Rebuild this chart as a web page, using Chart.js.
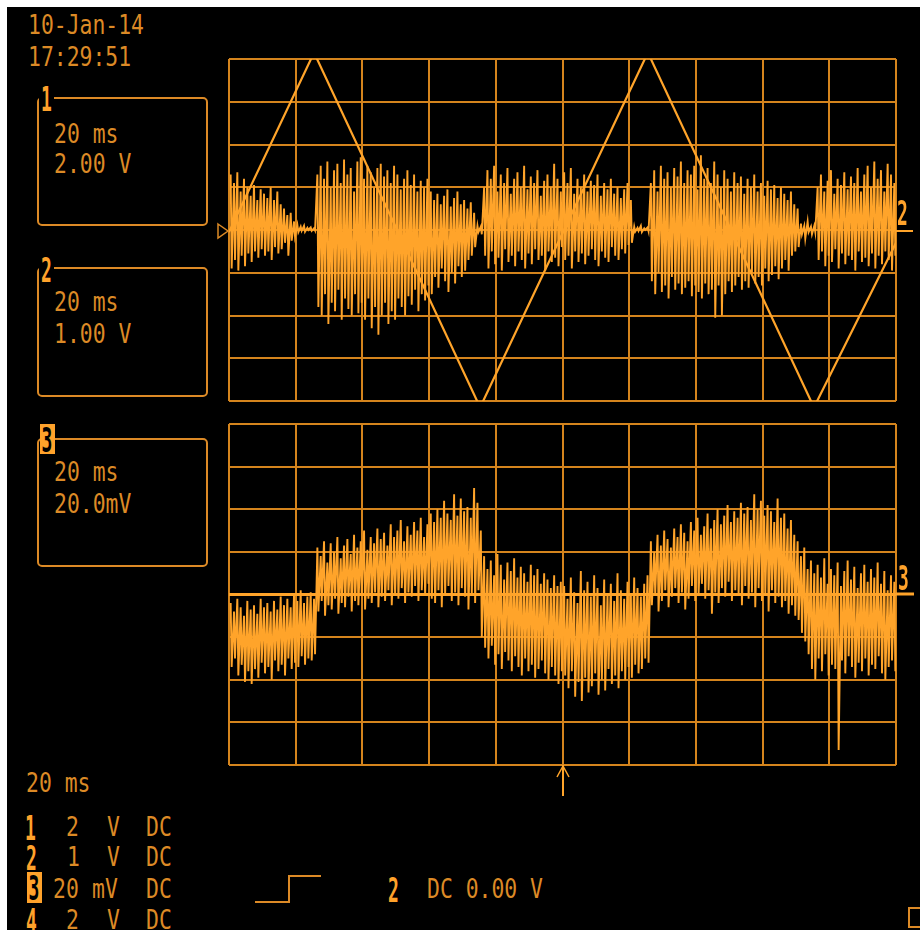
<!DOCTYPE html>
<html>
<head>
<meta charset="utf-8">
<script src="https://cdn.jsdelivr.net/npm/chart.js@4.4.0/dist/chart.umd.min.js"></script>
<style>
  body { margin: 0; background: #fff; }
  #scope { position: absolute; left: 0; top: 0; width: 920px; height: 930px; background: #000; overflow: hidden; }
  .t { position: absolute; font-family: "DejaVu Sans Mono", monospace; font-size: 21.4px; line-height: normal;
       color: #dc8a26; white-space: pre; transform: scaleY(1.28); transform-origin: 0 0; }
  .b { position: absolute; font-family: "DejaVu Sans Mono", monospace; font-weight: bold; font-size: 18px;
       line-height: normal; color: #ffa22b; white-space: pre; transform: scaleY(1.83); transform-origin: 0 0; }
  .lbl { background: #000; padding: 0 2px; }
  .box { position: absolute; border: 2px solid #dc8a26; border-radius: 5px; box-sizing: border-box; }
  .inv { position: absolute; background: #ffa22b; }
  canvas { position: absolute; }
  .edge { position: absolute; background: #fff; }
</style>
</head>
<body>
<div id="scope">
  <canvas id="upper" width="687" height="362" style="left:219px;top:49px"></canvas>
  <canvas id="lower" width="687" height="361" style="left:219px;top:414px"></canvas>

  <div class="t" style="left:28px;top:7.5px">10-Jan-14</div>
  <div class="t" style="left:28px;top:39.5px">17:29:51</div>

  <div class="box" style="left:37px;top:97px;width:171px;height:129px"></div>
  <div class="b lbl" style="left:39px;top:79.5px">1</div>
  <div class="t" style="left:54px;top:116.5px">20 ms</div>
  <div class="t" style="left:54px;top:146.5px">2.00 V</div>

  <div class="box" style="left:37px;top:267px;width:171px;height:130px"></div>
  <div class="b lbl" style="left:39px;top:250.5px">2</div>
  <div class="t" style="left:54px;top:284.5px">20 ms</div>
  <div class="t" style="left:54px;top:316.5px">1.00 V</div>

  <div class="box" style="left:37px;top:438px;width:171px;height:129px"></div>
  <div class="inv" style="left:40px;top:424px;width:15px;height:30px"><div class="b" style="left:1.5px;top:-3.5px;color:#000">3</div></div>
  <div class="t" style="left:54px;top:454.5px">20 ms</div>
  <div class="t" style="left:54px;top:486.5px">20.0mV</div>

  <div class="t" style="left:26px;top:765.5px">20 ms</div>

  <div class="b" style="left:25px;top:808.5px">1</div>
  <div class="t" style="left:66px;top:809.5px">2</div>
  <div class="t" style="left:107px;top:809.5px">V</div>
  <div class="t" style="left:146px;top:809.5px">DC</div>

  <div class="b" style="left:26px;top:838.5px">2</div>
  <div class="t" style="left:67px;top:839.5px">1</div>
  <div class="t" style="left:107px;top:839.5px">V</div>
  <div class="t" style="left:146px;top:839.5px">DC</div>

  <div class="inv" style="left:27px;top:872px;width:15px;height:31px"><div class="b" style="left:1.5px;top:-3px;color:#000">3</div></div>
  <div class="t" style="left:53px;top:871.5px">20</div>
  <div class="t" style="left:92px;top:871.5px">mV</div>
  <div class="t" style="left:146px;top:871.5px">DC</div>

  <div class="b" style="left:26px;top:901.5px">4</div>
  <div class="t" style="left:66px;top:902.5px">2</div>
  <div class="t" style="left:107px;top:902.5px">V</div>
  <div class="t" style="left:146px;top:902.5px">DC</div>

  <div class="b" style="left:388px;top:870.5px">2</div>
  <div class="t" style="left:427px;top:871.5px">DC 0.00 V</div>

  <div class="b" style="left:897px;top:193.5px">2</div>
  <div class="b" style="left:898px;top:558.5px">3</div>

  <svg width="920" height="930" style="position:absolute;left:0;top:0">
    <polygon points="218,224 228,231 218,238" fill="none" stroke="#dc8a26" stroke-width="1.5"/>
    <line x1="896" y1="231" x2="913" y2="231" stroke="#ffa42a" stroke-width="2"/>
    <line x1="896" y1="594" x2="914" y2="594" stroke="#ffa42a" stroke-width="3"/>
    <line x1="563" y1="765" x2="563" y2="796" stroke="#ffa42a" stroke-width="2"/>
    <polyline points="557,777 563,766 569,777" fill="none" stroke="#ffa42a" stroke-width="1.5"/>
    <polyline points="255,902 289,902 289,876 321,876" fill="none" stroke="#dc8a26" stroke-width="2"/>
    <rect x="909" y="908" width="14" height="19" fill="none" stroke="#dc8a26" stroke-width="2"/>
  </svg>
</div>
<div class="edge" style="left:0;top:0;width:920px;height:7px"></div>
<div class="edge" style="left:0;top:0;width:7px;height:930px"></div>

<script>
// channel 1: triangle, vertices (ms, V), clipped at +-8 V by the graticule
const ch1Time = [0, 25.5, 75.3, 125.6, 175.4, 200];
const ch1Volts = [-0.1, 8.3, -8.3, 8.3, -8.3, -0.6];

// channel 2 (1 V/div): per-ms upper and lower spike values
const ch2Hi = [
  1.3, 1.1, 1.35, 0.9, 1.2, 1.0, 0.8, 1.05, 0.7, 0.95,
  0.85, 0.75, 1.0, 0.7, 0.9, 0.6, 0.5, 0.35, 0.4, 0.2,
  0.12, 0.08, 0.1, 0.05, 0.06, 0.04, 1.3, 1.5, 1.2, 1.6,
  1.0, 1.4, 1.55, 1.1, 1.65, 1.3, 1.45, 0.9, 1.6, 1.7,
  1.2, 1.5, 1.35, 1.0, 1.45, 1.55, 1.25, 1.4, 1.1, 1.5,
  1.3, 0.95, 1.2, 1.4, 1.05, 1.3, 0.9, 1.15, 1.0, 1.2,
  0.9, 0.7, 0.85, 0.6, 0.8, 0.95, 0.55, 0.75, 0.9, 0.6,
  0.7, 0.5, 0.65, 0.4, 0.1, 0.08, 1.0, 1.4, 1.2, 1.5,
  0.9, 1.3, 1.1, 1.45, 0.85, 1.2, 1.35, 1.0, 1.5, 0.95,
  1.25, 1.1, 1.4, 0.8, 1.15, 1.3, 1.0, 1.55, 1.2, 0.9,
  1.35, 1.1, 1.45, 0.85, 1.2, 1.0, 1.3, 0.9, 1.15, 1.05,
  1.3, 0.8, 1.1, 0.95, 1.2, 0.85, 1.0, 0.75, 0.95, 1.1,
  0.7, 0.08, 0.05, 0.1, 0.04, 0.06, 1.1, 1.4, 0.9, 1.5,
  1.2, 1.35, 1.0, 1.45, 1.25, 1.6, 1.1, 1.4, 1.3, 1.5,
  0.95, 1.75, 1.2, 1.45, 1.1, 1.6, 1.3, 1.0, 1.4, 1.2,
  0.9, 1.35, 1.1, 1.25, 0.85, 1.2, 1.0, 1.3, 0.9, 1.1,
  0.8, 1.15, 0.95, 1.05, 0.75, 1.0, 0.85, 0.7, 0.9, 0.6,
  0.5, 0.15, 0.1, 0.2, 0.08, 0.1, 1.0, 1.3, 0.9, 1.15,
  1.4, 0.85, 1.2, 1.05, 1.35, 0.95, 1.25, 1.1, 1.45, 0.9,
  1.3, 1.5, 1.0, 1.6, 1.2, 1.4, 0.9, 1.55, 1.3, 1.1
];
const ch2Lo = [
  -0.9, -0.7, -0.95, -0.6, -0.85, -0.55, -0.75, -0.5, -0.65, -0.45,
  -0.6, -0.5, -0.7, -0.4, -0.55, -0.45, -0.3, -0.6, -0.25, -0.15,
  -0.05, -0.02, -0.04, 0, -0.02, -0.01, -1.8, -2.0, -1.5, -2.2,
  -1.7, -1.9, -1.4, -2.1, -1.6, -1.85, -2.0, -1.5, -1.95, -1.7,
  -2.1, -1.6, -2.3, -1.8, -2.45, -2.0, -1.7, -2.2, -1.9, -2.1,
  -1.6, -1.8, -2.0, -1.55, -1.75, -1.4, -1.9, -1.5, -1.65, -1.3,
  -1.5, -1.1, -1.35, -0.9, -1.2, -1.45, -1.0, -1.25, -0.85, -1.1,
  -0.95, -0.7, -0.6, -0.4, -0.05, -0.1, -0.6, -0.9, -0.5, -0.8,
  -0.65, -0.95, -0.45, -0.75, -0.6, -0.85, -0.5, -0.7, -0.9, -0.55,
  -0.8, -0.45, -0.7, -0.6, -0.95, -0.5, -0.75, -0.65, -0.85, -0.4,
  -0.7, -0.6, -0.9, -0.5, -0.75, -0.55, -0.8, -0.6, -0.45, -0.7,
  -0.85, -0.5, -0.65, -0.75, -0.4, -0.6, -0.7, -0.45, -0.55, -0.35,
  -0.3, -0.04, -0.02, -0.05, 0, -0.03, -1.2, -1.5, -1.0, -1.45,
  -1.3, -1.6, -1.1, -1.4, -1.25, -1.5, -1.35, -1.2, -1.55, -1.3,
  -1.45, -1.6, -1.25, -1.5, -1.4, -2.05, -1.3, -2.0, -1.5, -1.2,
  -1.45, -1.3, -1.1, -1.4, -1.2, -1.35, -1.0, -1.25, -1.1, -1.3,
  -0.9, -1.2, -1.05, -0.85, -1.15, -0.9, -0.7, -0.95, -0.6, -0.5,
  -0.4, -0.1, -0.2, -0.05, -0.1, -0.05, -0.7, -0.5, -0.85, -0.6,
  -0.75, -0.45, -0.9, -0.55, -0.8, -0.6, -0.7, -0.95, -0.5, -0.75,
  -0.65, -0.85, -0.55, -0.9, -0.6, -0.8, -0.5, -0.7, -0.95, -0.6
];

// channel 3 (20 mV/div): per-ms upper and lower spike values, mV
const ch3Hi = [
  -4, -8, -2, -6, -10, -3, -7, -5, -9, -2,
  -6, -4, -8, -3, -7, -1, -5, -2, -6, 0,
  -3, 2, -4, -1, 1, -2, 22, 18, 25, 15,
  24, 20, 27, 17, 23, 26, 19, 28, 22, 25,
  30, 21, 27, 24, 31, 26, 29, 23, 33, 27,
  30, 35, 25, 32, 28, 34, 30, 36, 27, 33,
  38, 34, 40, 36, 44, 38, 35, 47, 37, 45,
  39, 41, 36, 50, 43, 30, 18, 12, 16, 9,
  19, 14, 7, 15, 11, 17, 8, 13, 10, 6,
  14, 9, 12, 5, 10, 7, 3, 9, 4, 6,
  4, -2, 8, 1, -4, 11, 2, 6, -1, 9,
  3, -5, 7, 0, 5, -3, 10, 2, -2, 6,
  0, 8, 3, -1, 5, 9, 25, 20, 28, 23,
  30, 26, 22, 31, 27, 33, 29, 25, 34, 30,
  36, 28, 32, 38, 31, 35, 40, 33, 37, 42,
  34, 39, 36, 43, 38, 41, 35, 47, 40, 44,
  37, 42, 39, 34, 45, 36, 38, 31, 35, 28,
  25, 18, 22, 12, 16, 10, 14, 8, 17, 5,
  12, 9, 15, 4, 11, 16, 7, 13, 3, 10,
  14, 6, 12, 8, 15, 5, 11, 2, 9, 6
];
const ch3Lo = [
  -34, -30, -38, -33, -41, -36, -42, -35, -39, -32,
  -37, -34, -40, -31, -36, -33, -38, -30, -35, -32,
  -34, -29, -33, -30, -31, -28, -8, -3, -10, -5,
  -7, -2, -9, -4, -6, -1, -8, -3, -5, 0,
  -7, -2, -4, 1, -6, -1, -3, 2, -5, 0,
  -2, 3, -4, 1, -1, 4, -3, 2, 0, 5,
  -2, -4, 2, -6, 0, 4, -3, 1, -5, 3,
  -1, -7, 0, -4, 2, -20, -25, -30, -24, -33,
  -28, -35, -27, -31, -36, -29, -34, -38, -30, -36,
  -33, -39, -35, -31, -37, -40, -34, -38, -42, -36,
  -38, -44, -36, -48, -41, -50, -39, -46, -43, -37,
  -47, -40, -45, -35, -42, -38, -44, -36, -40, -34,
  -39, -33, -37, -35, -30, -32, -5, 0, -8, -3,
  2, -6, -1, 3, -4, 1, -7, -2, 4, -3,
  0, 5, -2, 2, -9, 1, -4, 3, -1, 6,
  -3, 2, 0, -5, 4, -2, 1, -6, 3, -3,
  0, -8, 2, -4, -1, -6, -3, -9, -5, -10,
  -12, -18, -22, -28, -35, -40, -30, -36, -28, -38,
  -33, -35, -73, -31, -37, -29, -34, -39, -32, -36,
  -30, -38, -33, -35, -29, -37, -40, -34, -31, -36
];

const sampleMs = 1;
const gridColor = '#d4841d';
const traceColor = '#ffa42a';

// each sample becomes a vertical stroke from its upper to its lower value
function zigzag(hi, lo) {
  const pts = [];
  hi.forEach((h, i) => {
    const t = (i + 0.5) * sampleMs;
    pts.push({ x: t, y: h }, { x: t + 0.3, y: lo[i] });
  });
  return pts;
}

const timeAxis = {
  type: 'linear', min: 0, max: 200,
  ticks: { display: false, stepSize: 20 },
  grid: { color: gridColor, lineWidth: 2, drawTicks: false },
  border: { display: false }
};

function voltAxis(max, step, brightZero) {
  return {
    min: -max, max: max,
    ticks: { display: false, stepSize: step },
    grid: {
      drawTicks: false,
      color: (c) => (brightZero && c.tick && c.tick.value === 0 ? traceColor : gridColor),
      lineWidth: (c) => (brightZero && c.tick && c.tick.value === 0 ? 3 : 2)
    },
    border: { display: false }
  };
}

const baseOptions = {
  responsive: false,
  animation: false,
  devicePixelRatio: 1,
  events: [],
  layout: { padding: 10 },
  plugins: { legend: { display: false }, tooltip: { enabled: false } }
};

new Chart(document.getElementById('upper'), {
  type: 'line',
  data: {
    datasets: [
      {
        data: zigzag(ch2Hi, ch2Lo), yAxisID: 'y2',
        borderColor: traceColor, borderWidth: 1.9, pointRadius: 0, tension: 0
      },
      {
        data: ch1Time.map((t, i) => ({ x: t, y: ch1Volts[i] })), yAxisID: 'y',
        borderColor: traceColor, borderWidth: 2.2, pointRadius: 0, tension: 0
      }
    ]
  },
  options: {
    ...baseOptions,
    scales: {
      x: timeAxis,
      y: voltAxis(8, 2, false),
      y2: { display: false, min: -4, max: 4 }
    }
  }
});

new Chart(document.getElementById('lower'), {
  type: 'line',
  data: {
    datasets: [
      {
        data: zigzag(ch3Hi, ch3Lo),
        borderColor: traceColor, borderWidth: 1.9, pointRadius: 0, tension: 0
      }
    ]
  },
  options: {
    ...baseOptions,
    scales: {
      x: timeAxis,
      y: voltAxis(80, 20, true)
    }
  }
});
</script>
</body>
</html>
